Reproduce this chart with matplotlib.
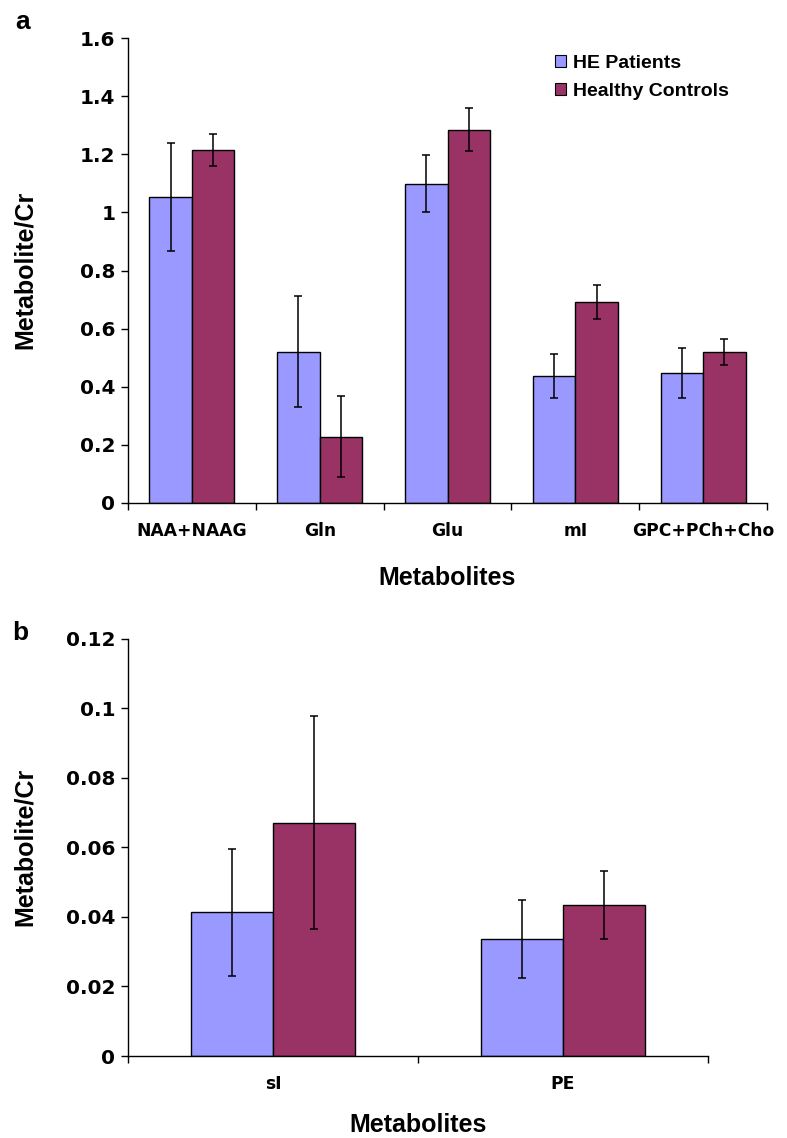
import numpy as np
import matplotlib
matplotlib.use("Agg")
import matplotlib.pyplot as plt
from matplotlib.transforms import offset_copy
from matplotlib.patches import Patch

# ---- data ----
cats_a = ["NAA+NAAG", "Gln", "Glu", "mI", "GPC+PCh+Cho"]
he_a = [1.054, 0.521, 1.099, 0.437, 0.448]
he_a_err = [0.186, 0.190, 0.098, 0.077, 0.085]
hc_a = [1.215, 0.228, 1.284, 0.691, 0.520]
hc_a_err = [0.056, 0.140, 0.074, 0.058, 0.044]

cats_b = ["sI", "PE"]
he_b = [0.0413, 0.0336]
he_b_err = [0.0182, 0.0113]
hc_b = [0.0671, 0.0434]
hc_b_err = [0.0306, 0.0097]

series_names = ["HE Patients", "Healthy Controls"]
yticks_a = [0, 0.2, 0.4, 0.6, 0.8, 1, 1.2, 1.4, 1.6]
yticklabels_a = ["0", "0.2", "0.4", "0.6", "0.8", "1", "1.2", "1.4", "1.6"]
yticks_b = [0, 0.02, 0.04, 0.06, 0.08, 0.1, 0.12]
yticklabels_b = ["0", "0.02", "0.04", "0.06", "0.08", "0.1", "0.12"]

BLUE = "#9999FF"
RED = "#993366"

W, H = 787, 1138
fig = plt.figure(figsize=(W / 100, H / 100), dpi=100)

def px_axes(left, top, right, bottom):
    return fig.add_axes([left / W, 1 - bottom / H, (right - left) / W, (bottom - top) / H])

tick_font = dict(family="DejaVu Sans", weight="bold")
label_font = dict(family="Liberation Sans", weight="bold")

def draw(ax, cats, he, he_err, hc, hc_err, width, yticks, yticklabels, ymax, xlabel_off, tick_fs):
    n = len(cats)
    x = np.arange(n)
    ax.bar(x - width / 2, he, width, color=BLUE, edgecolor="black", linewidth=1.0, zorder=2)
    ax.bar(x + width / 2, hc, width, color=RED, edgecolor="black", linewidth=1.0, zorder=2)
    ekw = dict(fmt="none", ecolor="black", elinewidth=1.1, capsize=3, capthick=1.1, zorder=3)
    ax.errorbar(x - width / 2, he, yerr=he_err, **ekw)
    ax.errorbar(x + width / 2, hc, yerr=hc_err, **ekw)
    ax.set_xlim(-0.5, n - 0.5)
    ax.set_ylim(0, ymax)
    for s in ["top", "right"]:
        ax.spines[s].set_visible(False)
    for s in ["left", "bottom"]:
        ax.spines[s].set_linewidth(1.0)
    ax.set_yticks(yticks)
    ax.set_yticklabels(yticklabels, fontsize=14.4, **tick_font)
    ax.tick_params(axis="y", length=5, width=1.0, pad=4)
    ax.set_xticks(np.arange(n + 1) - 0.5)
    ax.set_xticklabels([])
    ax.tick_params(axis="x", which="major", length=5, width=1.0, direction="out")
    ax.set_xticks(x, minor=True)
    ax.set_xticklabels(cats, minor=True, fontsize=tick_fs, **tick_font)
    ax.tick_params(axis="x", which="minor", length=0, pad=14)
    tr = offset_copy(ax.transAxes, fig=fig, x=0, y=-xlabel_off, units="dots")
    ax.text(0.5, 0, "Metabolites", transform=tr, ha="center", va="center",
            fontsize=18, **label_font)

# panel a
ax1 = px_axes(128, 38, 767, 503)
draw(ax1, cats_a, he_a, he_a_err, hc_a, hc_a_err, 0.333, yticks_a, yticklabels_a, 1.6, 75, 12.3)
# panel b
ax2 = px_axes(128, 638.5, 708, 1056)
draw(ax2, cats_b, he_b, he_b_err, hc_b, hc_b_err, 0.284, yticks_b, yticklabels_b, 0.12, 69, 12.3)

fig.text(25 / W, 1 - 270 / H, "Metabolite/Cr", rotation=90, ha="center", va="center",
         fontsize=18, **label_font)
fig.text(25 / W, 1 - 847 / H, "Metabolite/Cr", rotation=90, ha="center", va="center",
         fontsize=18, **label_font)

fig.text(23 / W, 1 - 22 / H, "a", ha="center", va="center", fontsize=19, **label_font)
fig.text(20 / W, 1 - 633 / H, "b", ha="center", va="center", fontsize=19, **label_font)

handles = [Patch(facecolor=BLUE, edgecolor="black", linewidth=0.8),
           Patch(facecolor=RED, edgecolor="black", linewidth=0.8)]
leg = fig.legend(handles, series_names, loc="upper left",
                 bbox_to_anchor=(555 / W, 1 - 55 / H), frameon=False,
                 prop=dict(size=14, family="Liberation Sans", weight="bold"),
                 handlelength=0.55, handleheight=0.55, handletextpad=0.4,
                 labelspacing=0.55, borderpad=0, borderaxespad=0)

fig.savefig("out.png", dpi=100)
